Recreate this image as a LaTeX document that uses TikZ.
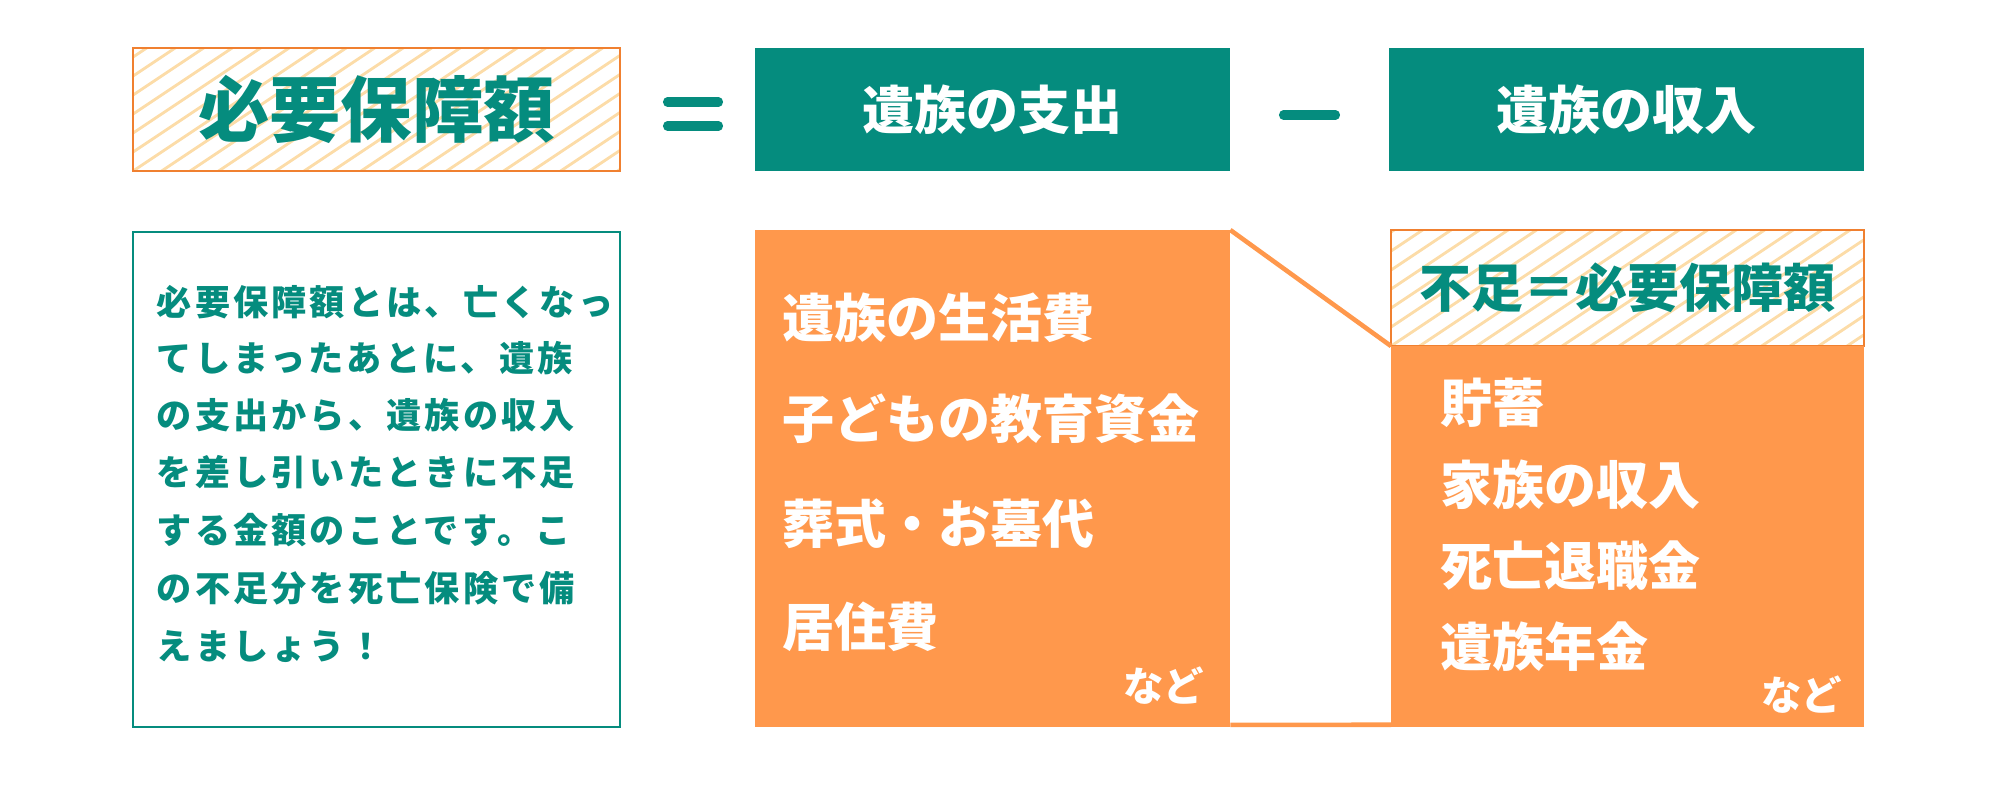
\documentclass[tikz,border=0pt]{standalone}
\usepackage{fontspec}
\newfontfamily\jp{Noto Sans CJK JP}
\definecolor{teal1}{RGB}{5,140,126}
\definecolor{orfill}{RGB}{255,152,76}
\definecolor{orline}{RGB}{240,128,48}
\definecolor{hatchc}{RGB}{252,220,168}
\tikzset{
  box/.style={anchor=north west, inner sep=0pt, outer sep=0pt},
  hatchbox/.style={box, draw=orline, line width=0.5pt,
    path picture={\foreach \i in {-8,...,20} {
      \draw[hatchc, line width=0.8pt] (path picture bounding box.south west) ++(\i*28.5,0) -- ++(300,-200);}}},
  tealbox/.style={box, fill=teal1},
  orbox/.style={box, fill=orfill},
  infobox/.style={box, draw=teal1, line width=0.5pt},
  conn/.style={draw=orfill, line width=1.3pt},
  bar/.style={draw=teal1, line width=2.6pt, line cap=round},
  big/.style={inner sep=0pt, font=\jp\bfseries\fontsize{20.3pt}{24pt}\selectfont, text=teal1},
  head/.style={inner sep=0pt, font=\jp\bfseries\fontsize{14.8pt}{18pt}\selectfont},
  item/.style={anchor=west, inner sep=0pt, text=white, font=\jp\bfseries\fontsize{14.8pt}{18pt}\selectfont},
  etc/.style={inner sep=0pt, text=white, font=\jp\bfseries\fontsize{11.5pt}{14pt}\selectfont},
  para/.style={anchor=west, inner sep=0pt, text=teal1, font=\jp\bfseries\fontsize{10pt}{12pt}\selectfont\addfontfeature{LetterSpace=9}},
}
\begin{document}
\begin{tikzpicture}[x=0.01cm, y=-0.01cm]
\useasboundingbox (0,0) rectangle (2000,800);
% top row
\node[hatchbox, minimum width=4.87cm, minimum height=1.23cm] (h1) at (133,48) {};
\node[big] (t1) at (h1.center) {必要保障額};
\coordinate (e1a) at (667.5,102); \coordinate (e1b) at (718.5,102);
\coordinate (e2a) at (667.5,126); \coordinate (e2b) at (718.5,126);
\draw[bar] (e1a) -- (e1b);
\draw[bar] (e2a) -- (e2b);
\node[tealbox, minimum width=4.75cm, minimum height=1.23cm] (b1) at (755,48) {};
\node[head, text=white] (t2) at (b1.center) {遺族の支出};
\coordinate (m1) at (1283.5,115); \coordinate (m2) at (1335.5,115);
\draw[bar] (m1) -- (m2);
\node[tealbox, minimum width=4.75cm, minimum height=1.23cm] (b2) at (1389,48) {};
\node[head, text=white] (t3) at (b2.center) {遺族の収入};
% explanation box
\node[infobox, minimum width=4.87cm, minimum height=4.95cm] (ib) at (133,232) {};
\node[para] (p1) at (156,302) {必要保障額とは、亡くなっ};
\node[para] (p2) at (156,358) {てしまったあとに、遺族};
\node[para] (p3) at (156,415) {の支出から、遺族の収入};
\node[para] (p4) at (156,472) {を差し引いたときに不足};
\node[para] (p5) at (156,530) {する金額のことです。こ};
\node[para] (p6) at (156,588) {の不足分を死亡保険で備};
\node[para] (p7) at (156,647) {えましょう！};
% expenses
\node[orbox, minimum width=4.75cm, minimum height=4.97cm] (o1) at (755,230) {};
\node[item] (i1) at (782,318) {遺族の生活費};
\node[item] (i2) at (782,419) {子どもの教育資金};
\node[item] (i3) at (782,524) {葬式・お墓代};
\node[item] (i4) at (782,627) {居住費};
\node[etc] (n1) at (1163.5,686) {など};
% income
\node[hatchbox, minimum width=4.73cm, minimum height=1.16cm] (h2) at (1391,230) {};
\node[head, text=teal1] (t4) at (h2.center) {不足＝必要保障額};
\node[orbox, minimum width=4.73cm, minimum height=3.81cm] (o2) at (1391,346) {};
\node[item] (j1) at (1440,403) {貯蓄};
\node[item] (j2) at (1440,485) {家族の収入};
\node[item] (j3) at (1440,566) {死亡退職金};
\node[item] (j4) at (1440,647) {遺族年金};
\node[etc] (n2) at (1801.5,695) {など};
% connector
\draw[conn] (o1.north east) -- (h2.south west);
\draw[conn] ([yshift=0.7pt]o1.south east) -- ([yshift=0.7pt]o2.south west);
\end{tikzpicture}
\end{document}
